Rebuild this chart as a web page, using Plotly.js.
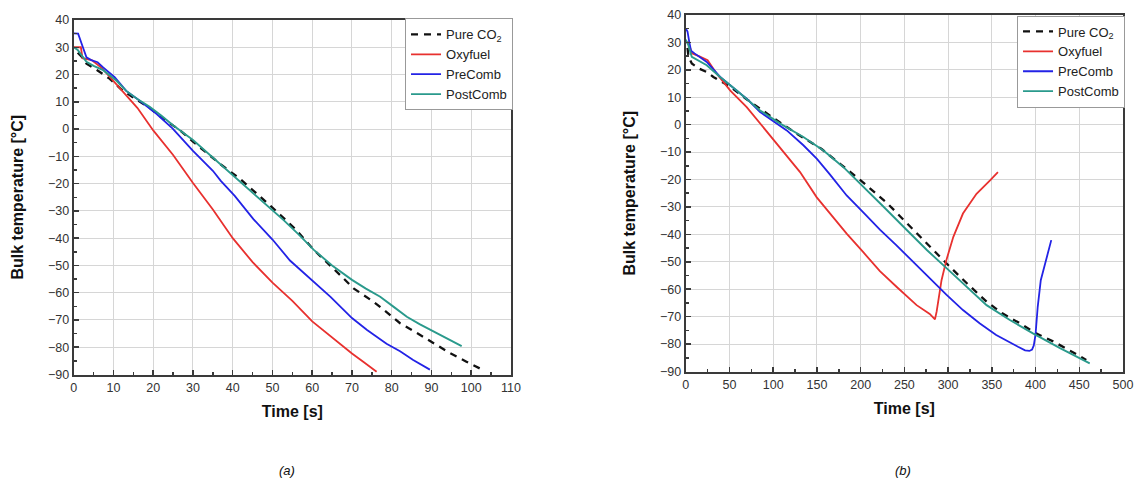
<!DOCTYPE html>
<html>
<head>
<meta charset="utf-8">
<script src="https://cdn.plot.ly/plotly-3.0.1.min.js"></script>
<style>html,body{margin:0;padding:0;background:#fff;}</style>
</head>
<body>
<div id="chart" style="width:1138px;height:485px;"></div>
<script>
// ---------- Panel (a) ----------
const a_t_pure = [1, 2, 3.2, 6, 9, 12, 15, 18.7, 22.4, 26.6, 30, 34.1, 37, 41.7, 45.2, 49.4, 52, 56, 60.4, 64.1, 67, 70.4, 75.4, 78.2, 82.1, 86, 89.6, 94.6, 98.8, 102.2];
const a_T_pure = [28, 26.5, 24, 21.5, 18.5, 14.5, 11.5, 8.2, 3.9, -0.3, -4.6, -9.6, -13, -18.1, -22.5, -28, -31.5, -37, -44.3, -49.3, -53.5, -58.4, -63.3, -66.5, -71.2, -74.5, -77.8, -82.1, -85.3, -87.8];

const a_t_oxy = [0, 1.8, 2.2, 4.5, 7, 10, 13, 16, 20, 25, 30, 35, 40, 45, 50, 55, 60, 65, 70, 73, 76.2];
const a_T_oxy = [30, 30, 26, 25.3, 22.5, 17.5, 12.8, 7.8, -0.5, -9.5, -19.8, -29.5, -40, -48.8, -56.3, -63, -70.5, -76.5, -82.3, -85.5, -89];

const a_t_pre = [0, 1.1, 2.3, 3.2, 4.4, 6, 7.4, 10.3, 13.2, 16.6, 20.8, 24.9, 30, 35, 37, 40.5, 45.2, 50, 54.4, 60, 64.6, 70, 73.8, 78.7, 82.1, 85.4, 89.6];
const a_T_pre = [35.1, 35, 30, 26.3, 25.3, 24.5, 22.6, 19, 14, 10.4, 5.6, 0.2, -8, -15.3, -19, -24.5, -33, -40.5, -48.2, -55.5, -61.5, -69.3, -73.7, -78.7, -81.5, -84.7, -88.2];

const a_t_post = [0, 1, 2, 3.2, 5, 7.4, 10.7, 13.2, 16, 19.1, 22, 24.9, 30, 35, 40.8, 46.7, 52.8, 56.5, 60.4, 65, 70, 73.5, 77.1, 80.5, 83.8, 87, 90.5, 94, 97.6];
const a_T_post = [30, 29, 27, 24.7, 23.2, 21.6, 17.8, 14, 11, 8.2, 5, 1.5, -4, -10.4, -18, -25.5, -33.4, -38.5, -44.3, -50, -55.3, -58.5, -61.5, -65.2, -68.8, -71.5, -74.2, -76.8, -79.6];

// ---------- Panel (b) ----------
const b_t_pure = [2, 3, 6.9, 15, 24, 31.6, 50, 70, 100, 127, 155, 180, 200, 230, 257, 280, 302, 322, 344, 362, 382, 400, 420, 440, 458];
const b_T_pure = [28, 25, 22.3, 20.5, 19.2, 17.4, 14, 9.2, 2.5, -3.3, -8.8, -15, -20.3, -28.5, -37.3, -44.5, -51.8, -58, -64.5, -68.8, -72.4, -76, -79, -82.5, -85.8];

const b_t_oxy = [0, 3, 5, 7, 15, 25, 35.4, 50.7, 69.7, 88.8, 107.9, 130.7, 149.8, 165, 184, 203, 222, 241, 264, 279, 285, 287, 289, 292.5, 298, 306, 317, 332.5, 348, 357];
const b_T_oxy = [30, 30, 28, 26, 25, 23.5, 18.6, 12.5, 6.4, -0.9, -8.2, -17.3, -26.5, -32.4, -39.7, -46.5, -53.4, -59.1, -65.8, -69, -71, -68, -63.9, -56.7, -49.4, -40.9, -32.4, -25.2, -20.3, -17.3];

const b_t_pre = [0, 2, 4, 6, 10, 24, 39.3, 58.3, 71.6, 85, 96.4, 115.5, 134.5, 150, 165, 184, 203, 222, 241, 260, 279, 298, 317, 336, 355, 370, 380, 388, 393, 396, 398, 400, 402.5, 406, 411.7, 418];
const b_T_pre = [35.1, 34, 30.2, 27, 26, 22.9, 17.4, 12.5, 8.9, 4.6, 2.2, -2.1, -7.5, -12.5, -18.2, -25.8, -32, -38.3, -44, -50, -56, -62, -67.6, -72.4, -76.7, -79.4, -81, -82.3, -82.5, -82, -80.5, -76.5, -66.4, -56.7, -49.4, -42.1];

const b_t_post = [0, 3, 6.9, 24, 39.3, 58.3, 85, 108, 134.5, 157.4, 180.3, 196, 210.8, 226.5, 253, 276, 298.5, 321, 344, 370.6, 397, 428, 462];
const b_T_post = [31, 29, 24.7, 21.7, 17.4, 12.5, 5.2, 0.4, -4.5, -9.4, -15.5, -20.3, -25, -30, -38.5, -45.8, -52.4, -59.1, -65.8, -71.2, -76.1, -81.5, -87];

const seriesNames = ['Pure CO<sub>2</sub>', 'Oxyfuel', 'PreComb', 'PostComb'];
const xTitle = 'Time [s]';
const yTitle = 'Bulk temperature [°C]';
const captions = ['(a)', '(b)'];

const styles = [
  {color: '#111111', width: 2.3, dash: '7px,6px'},
  {color: '#e8312f', width: 1.8},
  {color: '#2323e6', width: 1.8},
  {color: '#2a9a8c', width: 1.9}
];

const aX = [a_t_pure, a_t_oxy, a_t_pre, a_t_post];
const aY = [a_T_pure, a_T_oxy, a_T_pre, a_T_post];
const bX = [b_t_pure, b_t_oxy, b_t_pre, b_t_post];
const bY = [b_T_pure, b_T_oxy, b_T_pre, b_T_post];

const traces = [];
for (let i = 0; i < 4; i++) {
  traces.push({x: aX[i], y: aY[i], name: seriesNames[i], type: 'scatter', mode: 'lines',
    line: styles[i], xaxis: 'x', yaxis: 'y', legend: 'legend', hoverinfo: 'skip'});
}
for (let i = 0; i < 4; i++) {
  traces.push({x: bX[i], y: bY[i], name: seriesNames[i], type: 'scatter', mode: 'lines',
    line: styles[i], xaxis: 'x2', yaxis: 'y2', legend: 'legend2', hoverinfo: 'skip'});
}

const FONT = '"Liberation Sans", Arial, Helvetica, sans-serif';
const axisCommon = {
  showline: true, mirror: true, linecolor: '#3a3a3a', linewidth: 2,
  ticks: 'inside', ticklen: 5, tickwidth: 1.5, tickcolor: '#3a3a3a',
  showgrid: true, gridcolor: '#d6d6d6', gridwidth: 1, zeroline: false,
  tickfont: {family: FONT, size: 12.5, color: '#333'},
  fixedrange: true
};
const titleFont = {family: FONT, size: 16, color: '#111', weight: 'bold'};

const legendCommon = {
  bgcolor: '#ffffff', bordercolor: '#999999', borderwidth: 1,
  font: {family: FONT, size: 13, color: '#222'},
  xanchor: 'left', yanchor: 'top', tracegroupgap: 0, itemwidth: 30
};

const layout = {
  width: 1138, height: 485,
  margin: {l: 0, r: 0, t: 0, b: 0},
  paper_bgcolor: '#ffffff', plot_bgcolor: '#ffffff',
  font: {family: FONT, color: '#222'},
  showlegend: true,
  xaxis: Object.assign({}, axisCommon, {
    domain: [0.0648, 0.449], range: [0, 110], dtick: 10, tick0: 0, anchor: 'y',
    minor: {ticks: 'inside', ticklen: 3, dtick: 5, tickcolor: '#3a3a3a', showgrid: false},
    title: {text: xTitle, font: titleFont, standoff: 12}
  }),
  yaxis: Object.assign({}, axisCommon, {
    domain: [0.2278, 0.9588], range: [-90, 40], dtick: 10, tick0: 0, anchor: 'x',
    minor: {ticks: 'inside', ticklen: 3, dtick: 5, tickcolor: '#3a3a3a', showgrid: false},
    title: {text: yTitle, font: titleFont, standoff: 20}
  }),
  xaxis2: Object.assign({}, axisCommon, {
    domain: [0.6026, 0.9868], range: [0, 500], dtick: 50, tick0: 0, anchor: 'y2',
    minor: {ticks: 'inside', ticklen: 3, dtick: 25, tickcolor: '#3a3a3a', showgrid: false},
    title: {text: xTitle, font: titleFont, standoff: 12}
  }),
  yaxis2: Object.assign({}, axisCommon, {
    domain: [0.234, 0.9691], range: [-90, 40], dtick: 10, tick0: 0, anchor: 'x2',
    minor: {ticks: 'inside', ticklen: 3, dtick: 5, tickcolor: '#3a3a3a', showgrid: false},
    title: {text: yTitle, font: titleFont, standoff: 20}
  }),
  legend: Object.assign({}, legendCommon, {x: 0.3559, y: 0.962}),
  legend2: Object.assign({}, legendCommon, {x: 0.8937, y: 0.968}),
  annotations: [
    {text: captions[0], xref: 'paper', yref: 'paper', x: 0.2522, y: 0.0309, xanchor: 'center', yanchor: 'middle',
     showarrow: false, font: {family: FONT, size: 13, color: '#111', style: 'italic'}},
    {text: captions[1], xref: 'paper', yref: 'paper', x: 0.7935, y: 0.0309, xanchor: 'center', yanchor: 'middle',
     showarrow: false, font: {family: FONT, size: 13, color: '#111', style: 'italic'}}
  ]
};

Plotly.newPlot('chart', traces, layout, {displayModeBar: false, staticPlot: true});
</script>
</body>
</html>
